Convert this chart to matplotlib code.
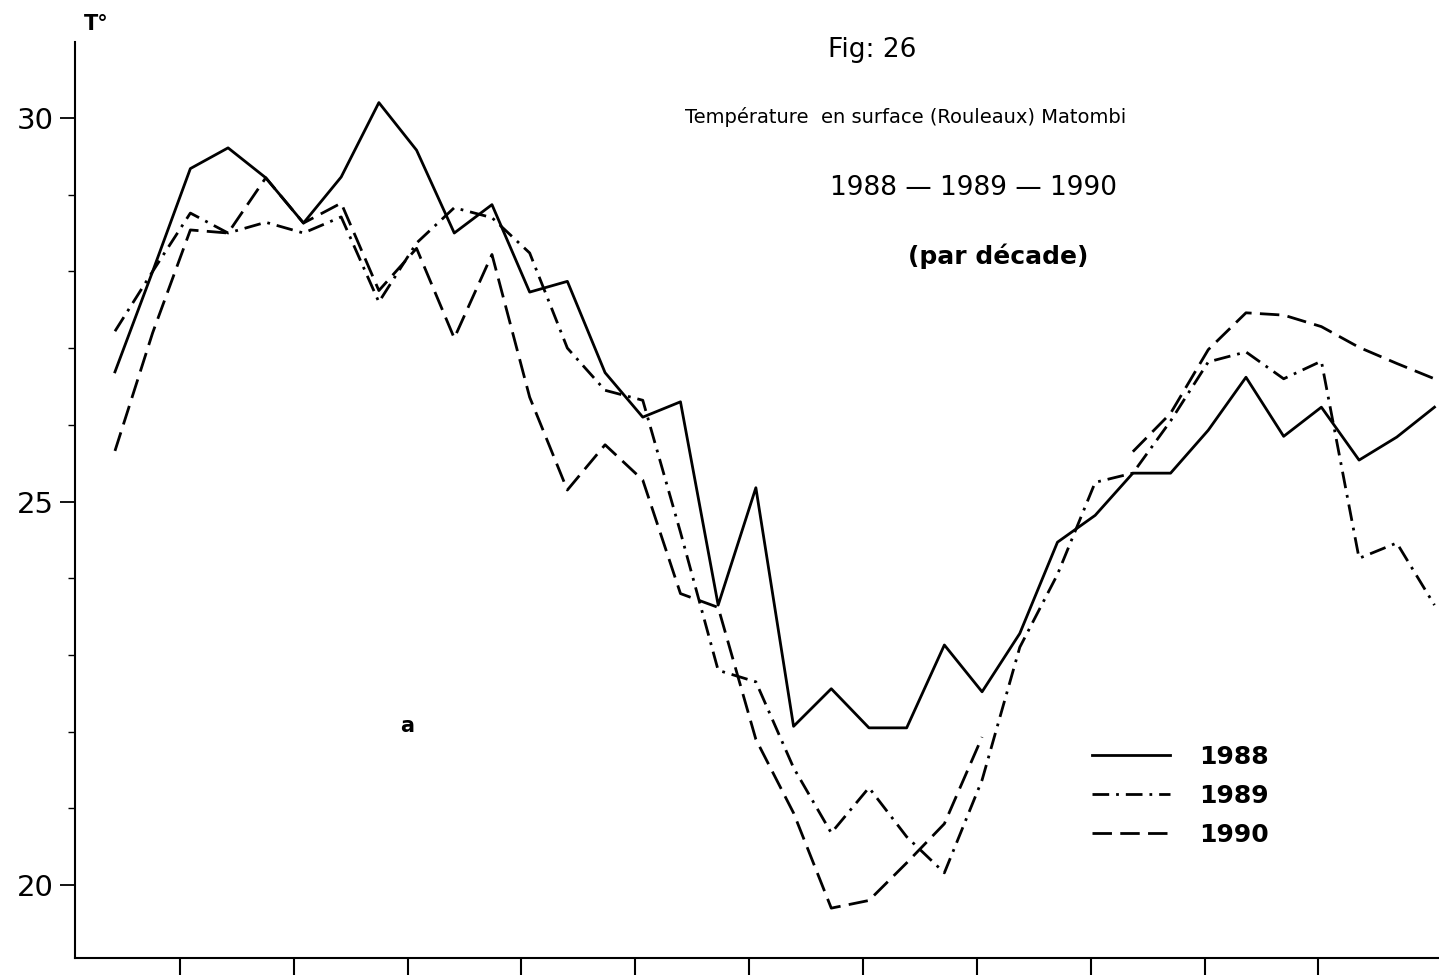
import numpy as np
import matplotlib
matplotlib.use("Agg")
import matplotlib.pyplot as plt
from matplotlib.ticker import MultipleLocator, FixedLocator

# decades of the year (0 = 1st decade of January)
decades = np.arange(36)

t1988 = [26.69, 28.0, 29.34, 29.61, 29.22, 28.63, 29.23, 30.2, 29.58, 28.5,
         28.87, 27.73, 27.87, 26.68, 26.1, 26.3, 23.65, 25.18, 22.07, 22.56,
         22.05, 22.05, 23.13, 22.52, 23.28, 24.47, 24.82, 25.37, 25.37, 25.93,
         26.62, 25.85, 26.23, 25.54, 25.84, 26.23]
t1989 = [27.22, 28.0, 28.76, 28.5, 28.64, 28.5, 28.71, 27.6, 28.37, 28.83,
         28.7, 28.24, 27.0, 26.45, 26.32, 24.6, 22.8, 22.65, 21.53, 20.68,
         21.27, 20.63, 20.16, 21.37, 23.1, 24.05, 25.25, 25.37, 26.05, 26.82,
         26.95, 26.6, 26.83, 24.26, 24.46, 23.65]
t1990 = [25.66, 27.2, 28.54, 28.5, 29.22, 28.63, 28.89, 27.75, 28.3, 27.13,
         28.22, 26.36, 25.15, 25.74, 25.28, 23.8, 23.62, 21.9, 20.94, 19.7,
         19.8, 20.29, 20.8, 21.93, np.nan, np.nan, np.nan, 25.65, 26.15, 26.98,
         27.46, 27.43, 27.28, 27.01, 26.8, 26.6]

years = ["1988", "1989", "1990"]
y_labels = [20, 25, 30]

# month boundaries (in decade units)
month_ticks = 1.72 + 3.02 * np.arange(11)

plt.rcParams['font.family'] = ['DejaVu Sans']

W, H = 1439, 975
fig = plt.figure(figsize=(W / 100, H / 100), dpi=100)
ax = fig.add_axes([75 / W, 17 / H, 1364 / W, 916 / H])

lw = 2.0
ax.plot(decades, t1988, color='black', lw=lw, label=years[0])
ax.plot(decades, t1989, color='black', lw=lw, dashes=(6, 2.5, 1, 2.5), label=years[1])
ax.plot(decades, t1990, color='black', lw=lw, dashes=(7, 3), label=years[2])

ax.set_xlim(-1.06, 35.12)
ax.set_ylim(19.05, 30.99)

ax.spines['top'].set_visible(False)
ax.spines['right'].set_visible(False)
for s in ['left', 'bottom']:
    ax.spines[s].set_linewidth(1.5)

ax.xaxis.set_major_locator(FixedLocator(month_ticks))
ax.tick_params(axis='x', direction='out', length=14, width=1.5, labelbottom=False)

ax.yaxis.set_major_locator(FixedLocator(y_labels))
ax.yaxis.set_minor_locator(MultipleLocator(1))
ax.tick_params(axis='y', which='major', direction='out', length=11, width=1.3,
               labelsize=21, pad=4)
ax.tick_params(axis='y', which='minor', direction='out', length=5, width=1.0)

def ftext(x, y, s, **kw):
    fig.text(x / W, 1 - y / H, s, ha='center', va='center', **kw)

ftext(96, 24, "T°", fontsize=15, fontweight='bold')
ftext(872, 50, "Fig: 26", fontsize=19)
ftext(906, 117, "Température  en surface (Rouleaux) Matombi", fontsize=14)
ftext(973, 188, "1988 — 1989 — 1990", fontsize=19)
ftext(998, 256, "(par décade)", fontsize=18, fontweight='bold')
ftext(407, 726, "a", fontsize=15, fontweight='bold')

ax.legend(loc='upper left', bbox_to_anchor=(1092 / W, 1 - 745 / H),
          bbox_transform=fig.transFigure, frameon=False,
          prop={'size': 18, 'weight': 'bold'},
          handlelength=3.1, handletextpad=1.2, labelspacing=0.6,
          borderpad=0, borderaxespad=0)

fig.savefig("out.png", dpi=100)
